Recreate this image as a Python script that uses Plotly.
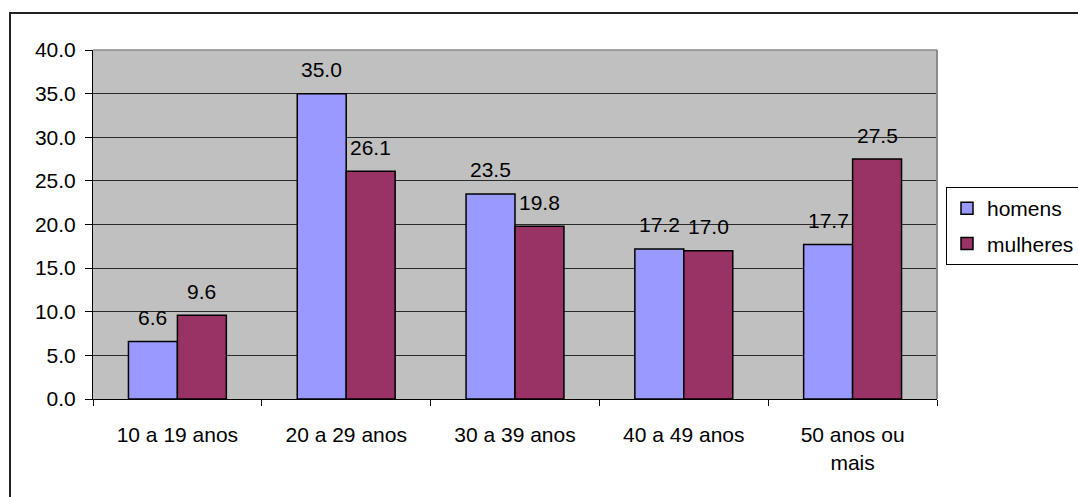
import plotly.graph_objects as go

# Age groups and percentages by sex
categories = ["10 a 19 anos", "20 a 29 anos", "30 a 39 anos", "40 a 49 anos", "50 anos ou<br>mais"]
homens = [6.6, 35.0, 23.5, 17.2, 17.7]
mulheres = [9.6, 26.1, 19.8, 17.0, 27.5]
series_names = ["homens", "mulheres"]
series_colors = ["#9999FF", "#993366"]
y_ticks = [0, 5, 10, 15, 20, 25, 30, 35, 40]

W, H = 1078, 497
ML, MR, MT, MB = 93, 141, 50, 98
plot_w = W - ML - MR
plot_h = H - MT - MB

FONT = "Liberation Sans, Arial, sans-serif"
FS = 21

BARGAP = 0.42
cat_w = plot_w / len(categories)
bar_w = cat_w * (1 - BARGAP) / 2

fig = go.Figure()
for i, (name, vals, col) in enumerate(zip(series_names, [homens, mulheres], series_colors)):
    fig.add_trace(go.Bar(
        x=categories, y=vals, name=name, legendgroup=name,
        marker=dict(color=col, line=dict(color="black", width=1.5)),
    ))

# value labels centred over each bar
for i, vals in enumerate([homens, mulheres]):
    shift = (-0.5 if i == 0 else 0.5) * bar_w
    for c, v in zip(categories, vals):
        fig.add_annotation(
            x=c, y=v, text=f"{v:.1f}", showarrow=False,
            xshift=shift, yshift=24, yanchor="middle",
            font=dict(family=FONT, size=FS, color="black"),
        )

px2x = lambda p: (p - ML) / plot_w
px2y = lambda p: (H - MB - p) / plot_h

shapes = [
    # chart frame (open to the right and bottom)
    dict(type="rect", xref="paper", yref="paper",
         x0=px2x(10), x1=px2x(1100), y0=px2y(520), y1=px2y(13),
         line=dict(color="#222222", width=2), layer="below"),
    # plot area border on top and right
    dict(type="line", xref="paper", yref="paper", x0=0, x1=1, y0=1, y1=1,
         line=dict(color="#8a8a8a", width=1.5), layer="above"),
    dict(type="line", xref="paper", yref="paper", x0=1, x1=1, y0=0, y1=1,
         line=dict(color="#8a8a8a", width=2), layer="above"),
]

fig.update_layout(
    width=W, height=H,
    margin=dict(l=ML, r=MR, t=MT, b=MB, autoexpand=False),
    paper_bgcolor="white", plot_bgcolor="#c0c0c0",
    barmode="group", bargap=BARGAP, bargroupgap=0,
    font=dict(family=FONT, size=FS, color="black"),
    showlegend=True,
    legend=dict(
        x=px2x(946), y=px2y(187), xanchor="left", yanchor="top",
        bordercolor="black", borderwidth=1, bgcolor="white",
        font=dict(family=FONT, size=FS, color="black"),
        tracegroupgap=5, itemclick=False,
    ),
    shapes=shapes,
    xaxis=dict(
        type="category", showgrid=False, showline=True, linecolor="black", linewidth=1,
        ticks="outside", tickson="boundaries", ticklen=6, tickcolor="black",
        tickfont=dict(family=FONT, size=FS), ticklabelstandoff=17,
    ),
    yaxis=dict(
        range=[0, 40], tickvals=y_ticks, tickformat=".1f",
        showgrid=True, gridcolor="#2a2a2a", gridwidth=1,
        showline=True, linecolor="black", linewidth=1, zeroline=False,
        ticks="outside", ticklen=7, tickcolor="black",
        tickfont=dict(family=FONT, size=FS), ticklabelstandoff=5,
    ),
)

fig.write_html("out.html")
